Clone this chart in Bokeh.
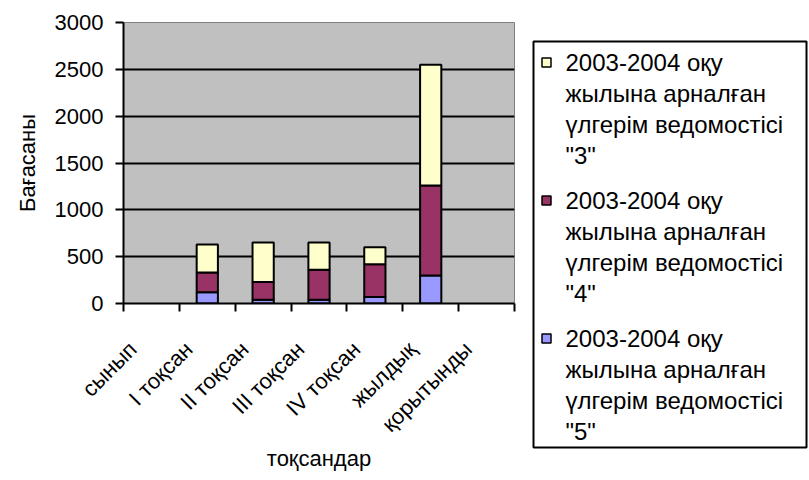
import math
from bokeh.plotting import figure
from bokeh.models import Range1d, FixedTicker, ColumnDataSource
from bokeh.layouts import row
from bokeh.embed import file_html
from bokeh.resources import INLINE
from bokeh.core.properties import value

# ---- data ----
NA = float("nan")
categories = ["сынып", "I тоқсан", "II тоқсан", "III тоқсан", "IV тоқсан", "жылдық", "қорытынды"]
grade5 = [NA, 120, 40, 40, 70, 300, NA]
grade4 = [NA, 210, 190, 320, 350, 960, NA]
grade3 = [NA, 300, 420, 290, 180, 1290, NA]
y_ticks = [0, 500, 1000, 1500, 2000, 2500, 3000]
legend_grades = ['"3"', '"4"', '"5"']
legend_lines = ["2003-2004 оқу", "жылына арналған", "үлгерім ведомостісі"]
x_title = "тоқсандар"
y_title = "Бағасаны"

# ---- styles ----
FONT = "Liberation Sans"
C3, C4, C5 = "#FFFFCC", "#993366", "#9999FF"

n = len(categories)
centers = [i + 0.5 for i in range(n)]
bounds = list(range(n + 1))
label_ticks = [c - 0.33 for c in centers]

src = ColumnDataSource(dict(x=centers, g5=grade5, g4=grade4, g3=grade3))

p = figure(width=524, height=478, x_range=Range1d(0, n), y_range=Range1d(0, 3000),
           output_backend="svg", toolbar_location=None,
           min_border_left=123, min_border_right=10, min_border_top=22, min_border_bottom=175)
p.frame_align = False
p.background_fill_color = "#C0C0C0"
p.border_fill_color = "white"
p.outline_line_color = "#808080"
p.outline_line_width = 1

p.xgrid.visible = False
p.ygrid.ticker = FixedTicker(ticks=y_ticks)
p.ygrid.grid_line_color = "black"
p.ygrid.grid_line_width = 2

p.vbar_stack(["g5", "g4", "g3"], x="x", width=0.38, color=[C5, C4, C3],
             line_color="black", line_width=2, source=src)

# y axis
ya = p.yaxis[0]
ya.ticker = FixedTicker(ticks=y_ticks)
ya.axis_line_width = 2
ya.major_tick_out = 8
ya.major_tick_in = 0
ya.major_tick_line_width = 2
ya.minor_tick_out = 0
ya.minor_tick_in = 0
ya.major_label_standoff = 12
ya.major_label_text_font = FONT
ya.major_label_text_font_size = "22px"
ya.major_label_text_color = "black"
ya.axis_label = y_title
ya.axis_label_text_font = FONT
ya.axis_label_text_font_size = "22px"
ya.axis_label_text_font_style = "normal"
ya.axis_label_text_color = "black"
ya.axis_label_standoff = 12

# x axis
xa = p.xaxis[0]
xa.ticker = FixedTicker(ticks=label_ticks, minor_ticks=bounds)
xa.major_label_overrides = {t: lab for t, lab in zip(label_ticks, categories)}
xa.axis_line_width = 2
xa.major_tick_out = 0
xa.major_tick_in = 0
xa.minor_tick_out = 8
xa.minor_tick_in = 0
xa.minor_tick_line_color = "black"
xa.minor_tick_line_width = 2
xa.major_label_orientation = math.pi / 4
xa.major_label_standoff = 34
xa.major_label_text_font = FONT
xa.major_label_text_font_size = "22px"
xa.major_label_text_color = "black"
xa.axis_label = x_title
xa.axis_label_text_font = FONT
xa.axis_label_text_font_size = "22px"
xa.axis_label_text_font_style = "normal"
xa.axis_label_text_color = "black"
xa.axis_label_standoff = -3

# ---- legend panel ----
q = figure(width=284, height=478, x_range=Range1d(0, 284), y_range=Range1d(478, 0),
           output_backend="svg", toolbar_location=None, min_border=0,
           x_axis_location=None, y_axis_location=None)
q.frame_align = False
q.grid.visible = False
q.outline_line_color = None
q.background_fill_color = "white"
q.border_fill_color = "white"

q.quad(left=[9], right=[282], top=[41], bottom=[447], fill_color=None,
       line_color="black", line_width=2)

item_y = [62, 200, 338]
q.scatter(x=[22, 22, 22], y=item_y, marker="square", size=9,
          fill_color=[C3, C4, C5], line_color="black", line_width=1.5)

tx, ty, tt = [], [], []
for iy, g in zip(item_y, legend_grades):
    for k, line in enumerate(legend_lines + [g]):
        tx.append(41)
        ty.append(iy + 31 * k)
        tt.append(line)
q.text(x=tx, y=ty, text=tt, text_font=value(FONT), text_font_size="24px",
       text_baseline="middle", text_align="left", text_color="black")

layout = row(p, q)
open("out.html", "w").write(file_html(layout, INLINE))
